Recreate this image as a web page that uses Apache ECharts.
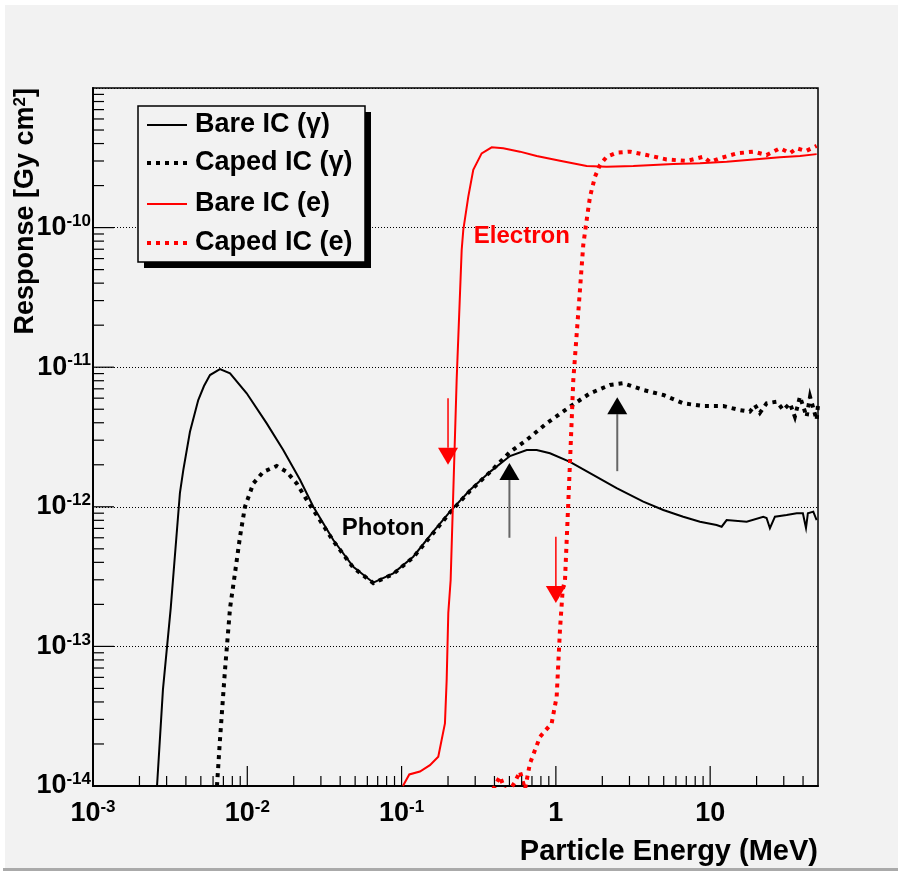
<!DOCTYPE html>
<html>
<head>
<meta charset="utf-8">
<script src="https://cdn.jsdelivr.net/npm/echarts@6/dist/echarts.min.js"></script>
<style>
  html, body { margin: 0; padding: 0; background: #ffffff; }
  #chart { width: 898px; height: 874px; }
</style>
</head>
<body>
<div id="chart"></div>
<script>
// Ionisation chamber response vs. particle energy.
// Energies in MeV, responses in Gy cm^2.

const bareGammaE = [0.0026, 0.00284, 0.00319, 0.00366, 0.00385, 0.00425, 0.00481, 0.00524, 0.00573, 0.00665, 0.00773,
  0.00991, 0.01336, 0.0171, 0.02196, 0.0268, 0.0361, 0.0486, 0.0656, 0.0883, 0.119,
  0.1604, 0.206, 0.2775, 0.374, 0.504, 0.647, 0.751, 0.916, 1.234, 1.838,
  2.477, 3.686, 4.97, 6.69, 8.59, 11.0, 11.87, 12.79, 17.25, 22.1,
  23.2, 24.4, 26.3, 31.3, 36.4, 39.9, 41.8, 43.0, 46.6, 49.0];
const bareGammaR = [1.0e-14, 4.9e-14, 1.88e-13, 1.26e-12, 1.84e-12, 3.45e-12, 5.82e-12, 7.33e-12, 8.79e-12, 9.70e-12, 9.04e-12,
  6.50e-12, 3.96e-12, 2.55e-12, 1.56e-12, 1.00e-12, 5.78e-13, 3.72e-13, 2.86e-13, 3.34e-13, 4.39e-13,
  6.63e-13, 9.23e-13, 1.32e-12, 1.78e-12, 2.31e-12, 2.55e-12, 2.55e-12, 2.42e-12, 2.10e-12, 1.64e-12,
  1.36e-12, 1.09e-12, 9.48e-13, 8.49e-13, 7.82e-13, 7.41e-13, 7.2e-13, 8.04e-13, 7.82e-13, 8.49e-13,
  8.32e-13, 7.02e-13, 8.49e-13, 8.73e-13, 8.98e-13, 8.98e-13, 7.05e-13, 9.0e-13, 9.23e-13, 8.04e-13];

const capedGammaE = [0.00636, 0.00665, 0.00717, 0.00773, 0.00832, 0.00897, 0.00966, 0.01094, 0.0127, 0.0155,
  0.018, 0.0209, 0.0243, 0.0268, 0.0361, 0.0486, 0.0656, 0.0883, 0.119, 0.1604,
  0.206, 0.2775, 0.374, 0.504, 0.647, 0.871, 1.234, 1.664, 2.242, 2.734,
  3.686, 4.97, 6.69, 9.02, 12.16, 15.6, 18.1, 19.5, 21.0, 23.2,
  27.0, 29.8, 32.9, 35.4, 38.2, 42.2, 44.4, 49.0, 50.0];
const capedGammaR = [1.0e-14, 2.14e-14, 6.78e-14, 1.88e-13, 3.34e-13, 6.11e-13, 1.0e-12, 1.47e-12, 1.78e-12, 1.96e-12,
  1.78e-12, 1.47e-12, 1.12e-12, 9.48e-13, 5.69e-13, 3.67e-13, 2.84e-13, 3.30e-13, 4.34e-13, 6.48e-13,
  9.1e-13, 1.30e-12, 1.77e-12, 2.47e-12, 3.01e-12, 3.96e-12, 5.21e-12, 6.50e-12, 7.46e-12, 7.68e-12,
  6.87e-12, 6.32e-12, 5.51e-12, 5.27e-12, 5.27e-12, 4.93e-12, 4.80e-12, 5.36e-12, 4.70e-12, 5.51e-12,
  5.66e-12, 4.93e-12, 5.51e-12, 4.42e-12, 6.15e-12, 4.42e-12, 6.15e-12, 4.19e-12, 5.36e-12];

const bareElectronE = [0.102, 0.1122, 0.1315, 0.1527, 0.1729, 0.191, 0.196, 0.2008, 0.208, 0.2275,
  0.2452, 0.2512, 0.2705, 0.2915, 0.3304, 0.3837, 0.456, 0.585, 0.751, 1.063,
  1.583, 2.134, 3.175, 5.77, 8.59, 12.79, 19.0, 28.3, 38.2, 49.0];
const bareElectronR = [1.0e-14, 1.21e-14, 1.27e-14, 1.41e-14, 1.62e-14, 2.81e-14, 5.74e-14, 1.73e-13, 2.99e-13, 8.09e-12,
  6.91e-11, 9.62e-11, 1.66e-10, 2.59e-10, 3.40e-10, 3.76e-10, 3.70e-10, 3.50e-10, 3.26e-10, 3.01e-10,
  2.76e-10, 2.73e-10, 2.76e-10, 2.85e-10, 2.89e-10, 2.96e-10, 3.08e-10, 3.19e-10, 3.26e-10, 3.36e-10];

const capedElectronE = [0.391, 0.434, 0.482, 0.543, 0.585, 0.631, 0.679, 0.789, 0.939, 1.012,
  1.037, 1.063, 1.107, 1.146, 1.234, 1.297, 1.505, 1.583, 1.664, 1.792,
  1.931, 2.134, 2.477, 3.02, 3.877, 5.22, 7.04, 9.02, 9.97, 11.57,
  14.85, 19.0, 23.2, 28.3, 32.9, 36.4, 41.8, 49.0];
const capedElectronR = [9.4e-15, 1.17e-14, 8.6e-15, 1.07e-14, 1.27e-14, 9.5e-15, 1.45e-14, 2.25e-14, 2.81e-14, 4.36e-14,
  7.57e-14, 1.31e-13, 2.54e-13, 2.99e-13, 2.05e-12, 8.09e-12, 7.50e-11, 1.13e-10, 1.66e-10, 2.31e-10,
  2.81e-10, 3.22e-10, 3.44e-10, 3.50e-10, 3.31e-10, 3.08e-10, 3.0e-10, 3.22e-10, 2.95e-10, 3.14e-10,
  3.40e-10, 3.50e-10, 3.31e-10, 3.70e-10, 3.42e-10, 3.70e-10, 3.54e-10, 3.85e-10];

// Axis ranges, decade (major) and sub-decade (minor) tick positions
const xMin = 0.001, xMax = 50;
const yMin = 1e-14, yMax = 1e-9;
const xMajorTicks = [0.001, 0.01, 0.1, 1, 10];
const yMajorTicks = [1e-14, 1e-13, 1e-12, 1e-11, 1e-10];
const xMinorTicks = [];
for (const d of xMajorTicks) for (let k = 2; k <= 9; k++) if (d * k < xMax) xMinorTicks.push(d * k);
const yMinorTicks = [];
for (const d of yMajorTicks) for (let k = 2; k <= 9; k++) yMinorTicks.push(d * k);

// Marker arrows: energy, start response, tip response
const redArrows = [[0.2, 6.0e-12, 2.0e-12], [1.0, 6.1e-13, 2.05e-13]];
const blackArrows = [[0.5, 6.0e-13, 2.06e-12], [2.5, 1.8e-12, 6.1e-12]];

// Curve annotations
const noteTexts = ['Electron', 'Photon'];
const noteColors = ['#ff0000', '#000000'];
const noteE = [0.294, 0.0409];
const noteR = [8.63e-11, 7.02e-13];

// Legend entries
const legendNames = ['Bare IC (\u03b3)', 'Caped IC (\u03b3)', 'Bare IC (e)', 'Caped IC (e)'];

const FONT = "'Liberation Sans', Arial, Helvetica, sans-serif";
const zip = (xs, ys) => xs.map((x, i) => [x, ys[i]]);

function powLabel(v, skipTop) {
  const l = Math.log10(v);
  const p = Math.round(l);
  if (Math.abs(l - p) > 1e-6) return '';
  if (skipTop !== undefined && p >= skipTop) return '';
  if (p === 0) return '{b|1}';
  if (p === 1) return '{b|10}';
  return '{b|10}{s|' + p + '}';
}
const labelRich = {
  b: { fontFamily: FONT, fontSize: 27, fontWeight: 'bold', color: '#000', lineHeight: 30 },
  s: { fontFamily: FONT, fontSize: 17, fontWeight: 'bold', color: '#000', lineHeight: 17, verticalAlign: 'top' }
};

const styles = [
  { color: '#000000', width: 2, type: 'solid' },
  { color: '#000000', width: 4, type: [4, 5] },
  { color: '#ff0000', width: 2, type: 'solid' },
  { color: '#ff0000', width: 4, type: [4, 5] }
];
const curves = [
  zip(bareGammaE, bareGammaR),
  zip(capedGammaE, capedGammaR),
  zip(bareElectronE, bareElectronR),
  zip(capedElectronE, capedElectronR)
];

const lineSeries = curves.map((d, i) => ({
  name: legendNames[i],
  type: 'line',
  data: d,
  showSymbol: false,
  symbol: 'none',
  clip: true,
  z: 3,
  lineStyle: { color: styles[i].color, width: styles[i].width, type: styles[i].type, cap: 'butt', join: 'miter' }
}));

function arrowSeries(data, lineColor, lineWidth, headColor) {
  return {
    type: 'custom',
    data: data,
    z: 4,
    encode: { x: 0, y: 1 },
    renderItem: function (params, api) {
      const a = api.coord([api.value(0), api.value(1)]);
      const b = api.coord([api.value(0), api.value(2)]);
      const dir = b[1] > a[1] ? 1 : -1;
      const base = b[1] - dir * 17;
      return {
        type: 'group',
        children: [
          { type: 'line', shape: { x1: a[0], y1: a[1], x2: a[0], y2: base }, style: { stroke: lineColor, lineWidth: lineWidth } },
          { type: 'polygon', shape: { points: [[b[0] - 10, base], [b[0] + 10, base], [b[0], b[1]]] }, style: { fill: headColor } }
        ]
      };
    }
  };
}

// Inward ticks along the bottom (x) and left (y) axes; third value = tick length
function xTickSeries(values, len) {
  return {
    type: 'custom', z: 5, encode: { x: 0, y: 1 },
    data: values.map(v => [v, yMin]),
    renderItem: function (params, api) {
      const p = api.coord([api.value(0), api.value(1)]);
      return { type: 'line', shape: { x1: p[0], y1: p[1], x2: p[0], y2: p[1] - len }, style: { stroke: '#000', lineWidth: 1.2 } };
    }
  };
}
function yTickSeries(values, len) {
  return {
    type: 'custom', z: 5, encode: { x: 0, y: 1 },
    data: values.map(v => [xMin, v]),
    renderItem: function (params, api) {
      const p = api.coord([api.value(0), api.value(1)]);
      return { type: 'line', shape: { x1: p[0], y1: p[1], x2: p[0] + len, y2: p[1] }, style: { stroke: '#000', lineWidth: 1.2 } };
    }
  };
}

const noteSeries = {
  type: 'custom',
  data: noteE.map((e, i) => [e, noteR[i]]),
  z: 6,
  encode: { x: 0, y: 1 },
  renderItem: function (params, api) {
    const p = api.coord([api.value(0), api.value(1)]);
    const i = params.dataIndex;
    return {
      type: 'text',
      x: p[0], y: p[1],
      style: { text: noteTexts[i], fill: noteColors[i], font: 'bold 24px ' + FONT, align: 'left', verticalAlign: 'middle' }
    };
  }
};

// Legend box drawn as graphic elements
const legX = 138, legY = 106, legW = 227, legH = 156;
const legRows = [125, 163, 204, 243];
const legendGraphics = [
  { type: 'rect', shape: { x: legX + 6, y: legY + 6, width: legW, height: legH }, style: { fill: '#000' }, z: 20 },
  { type: 'rect', shape: { x: legX, y: legY, width: legW, height: legH }, style: { fill: '#f2f2f2', stroke: '#000', lineWidth: 1.5 }, z: 21 }
];
legendNames.forEach((n, i) => {
  legendGraphics.push({
    type: 'line', z: 22,
    shape: { x1: legX + 9, y1: legRows[i], x2: legX + 49, y2: legRows[i] },
    style: { stroke: styles[i].color, lineWidth: styles[i].width, lineDash: styles[i].type === 'solid' ? null : styles[i].type, lineCap: 'butt' }
  });
  legendGraphics.push({
    type: 'text', z: 22, x: legX + 57, y: legRows[i],
    style: { text: n, font: 'bold 27px ' + FONT, fill: '#000', align: 'left', verticalAlign: 'middle' }
  });
});

const chart = echarts.init(document.getElementById('chart'), null, { renderer: 'canvas' });
chart.setOption({
  animation: false,
  backgroundColor: '#ffffff',
  graphic: [
    { type: 'rect', shape: { x: 5, y: 5, width: 893, height: 863 }, style: { fill: '#f2f2f2' }, z: -10, silent: true },
    { type: 'rect', shape: { x: 3, y: 868, width: 895, height: 3 }, style: { fill: '#aaaaaa' }, z: -10, silent: true },
    {
      type: 'text', x: 818, y: 852, z: 10,
      style: { text: 'Particle Energy (MeV)', font: 'bold 29px ' + FONT, fill: '#000', align: 'right', verticalAlign: 'middle' }
    },
    {
      type: 'text', x: 26, y: 88, rotation: Math.PI / 2, z: 10,
      style: {
        text: '{t|Response [Gy cm}{s|2}{t|]}', align: 'right', verticalAlign: 'middle',
        rich: {
          t: { fontFamily: FONT, fontSize: 27, fontWeight: 'bold', fill: '#000', lineHeight: 28 },
          s: { fontFamily: FONT, fontSize: 17, fontWeight: 'bold', fill: '#000', lineHeight: 17, verticalAlign: 'top' }
        }
      }
    }
  ].concat(legendGraphics),
  grid: {
    left: 93, top: 88, width: 725, height: 698,
    show: true, borderColor: '#000', borderWidth: 1.5, backgroundColor: 'transparent'
  },
  xAxis: {
    type: 'log', logBase: 10, min: xMin, max: xMax, splitNumber: 5,
    axisLine: { show: true, onZero: false, lineStyle: { color: '#000', width: 2 } },
    axisTick: { show: false },
    splitLine: { show: false },
    axisLabel: { margin: 13, formatter: v => powLabel(v), rich: labelRich, showMaxLabel: true, showMinLabel: true, hideOverlap: false }
  },
  yAxis: {
    type: 'log', logBase: 10, min: yMin, max: yMax, splitNumber: 5,
    axisLine: { show: true, onZero: false, lineStyle: { color: '#000', width: 2 } },
    axisTick: { show: false },
    splitLine: { show: true, lineStyle: { color: '#000', width: 1, type: [1, 2] } },
    axisLabel: { margin: 2, formatter: v => powLabel(v, -9), rich: labelRich, showMaxLabel: true, showMinLabel: true, hideOverlap: false }
  },
  series: lineSeries.concat([
    arrowSeries(redArrows, '#ff0000', 1.5, '#ff0000'),
    arrowSeries(blackArrows, '#666666', 2, '#000000'),
    xTickSeries(xMajorTicks, 20), xTickSeries(xMinorTicks, 10),
    yTickSeries(yMajorTicks, 21), yTickSeries(yMinorTicks, 11),
    noteSeries
  ])
});
</script>
</body>
</html>
